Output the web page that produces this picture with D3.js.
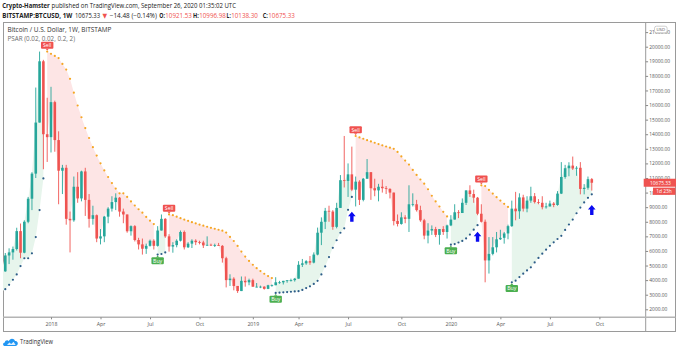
<!DOCTYPE html>
<html>
<head>
<meta charset="utf-8">
<script src="https://cdn.jsdelivr.net/npm/d3@7"></script>
<style>
  html, body { margin: 0; padding: 0; background: #fff; }
  svg { display: block; font-family: "Open Sans", "DejaVu Sans", sans-serif; }
</style>
</head>
<body>
<svg id="chart" width="680" height="350"></svg>
<script>
// Weekly BTCUSD (Bitstamp) candles, one per week starting Monday.
// The first twelve weeks (Jul-Oct 2017) only seed the Parabolic SAR and sit left of the pane.
const firstWeek = "2017-07-17";

const opens = [
  1920, 2740, 2750, 3240, 4100, 4080, 4350, 4600, 4200, 3700, 3600, 4380,
  4600, 5690, 5900, 6130, 7360, 5880, 8000, 9580, 11300, 14800, 19000, 14000,
  // 2018
  13800, 16200, 13600, 11500, 11700, 8200, 8100, 10400, 9600, 11450, 9500, 8200, 8450,
  6850, 7000, 8350, 8900, 9350, 9650, 8700, 8500, 7350, 7700, 6750, 6450, 6150,
  6350, 6700, 6350, 7400, 8200, 7000, 6300, 6400, 6700, 7300, 6250, 6500, 6700,
  6600, 6580, 6380, 6420, 6400, 6400, 6350, 5500, 4000, 4100, 3600, 3250, 3950,
  // 2019
  3850, 4000, 3550, 3550, 3550, 3400, 3650, 3650, 3850, 3850, 3950, 3990, 4000,
  4100, 5050, 5150, 5300, 5200, 5750, 7250, 8000, 8750, 8700, 7650, 8950, 10850,
  10800, 11250, 10200, 10750, 9500, 10950, 11400, 10300, 10150, 10400, 10300, 10250, 10000, 8050,
  7850, 8300, 8200, 9200, 9200, 8800, 8100, 7050, 7400, 7500, 7100, 7500,
  // 2020
  7300, 7750, 8150, 8650, 8600, 9300, 10150, 9900, 9650, 8550, 8000, 5350, 5800, 6250,
  6800, 6900, 7200, 7700, 8900, 8720, 9670, 8900, 9450, 9750, 9350, 9300, 9000,
  9050, 9250, 9150, 9930, 11070, 11670, 11850, 11650, 11700, 10250, 10330, 10921.53
];
const highs = [
  2900, 2780, 3300, 4200, 4480, 4450, 4980, 4720, 4350, 4100, 4400, 4600,
  5860, 6180, 6300, 7590, 7880, 8100, 9700, 11400, 17200, 19666, 19100, 16500,
  // 2018
  17250, 16300, 14200, 11900, 11900, 8700, 11100, 11400, 11500, 11700, 9900, 9100, 8500,
  7500, 8400, 9000, 9750, 9950, 9700, 8900, 8500, 7750, 7770, 6900, 6850, 6500,
  6780, 6800, 7700, 8500, 8250, 7150, 6600, 6800, 7400, 7400, 6600, 6800, 6800,
  6700, 6700, 7000, 6500, 6500, 6550, 6400, 5600, 4400, 4200, 3600, 4250, 4250,
  // 2019
  4100, 4100, 3800, 3620, 3580, 3680, 3700, 4200, 3950, 3950, 4000, 4100, 4150,
  5300, 5450, 5370, 5650, 5900, 7600, 8300, 8950, 9100, 8800, 9300, 11200, 13880,
  12000, 13150, 11100, 10850, 11000, 12300, 11400, 10950, 10600, 10900, 10450, 10300, 10000, 8500,
  8650, 8450, 10500, 9950, 9500, 9100, 8200, 7900, 7750, 7650, 7500, 7700,
  // 2020
  7800, 8450, 9200, 8800, 9600, 10150, 10500, 10200, 9700, 9200, 8150, 6950, 6950, 7300,
  7450, 7300, 7800, 9450, 10050, 9950, 9850, 9750, 10400, 9970, 9550, 9750, 9300,
  9450, 9350, 10100, 12090, 11900, 12080, 12470, 11810, 12090, 10580, 11100, 10996.98
];
const lows = [
  1850, 2400, 2660, 3180, 3950, 3950, 4350, 4000, 3000, 3500, 3580, 4150,
  4570, 5100, 5400, 6030, 5500, 5840, 7900, 8800, 11000, 14800, 11600, 12100,
  // 2018
  12750, 12800, 9200, 9900, 7800, 5900, 8000, 9300, 9400, 8400, 7600, 7800, 6600,
  6450, 6600, 7900, 8700, 8800, 8350, 7900, 7250, 7050, 6650, 6100, 5750, 5800,
  6300, 6100, 6300, 7400, 6900, 5950, 5880, 6250, 6650, 6100, 6200, 6200, 6400,
  6450, 6200, 6350, 6350, 6270, 6350, 5200, 3500, 3600, 3300, 3120, 3250, 3550,
  // 2019
  3650, 3550, 3500, 3450, 3350, 3380, 3550, 3650, 3750, 3700, 3820, 3900, 3900,
  4100, 4900, 5050, 5050, 5150, 5700, 6400, 7500, 8000, 7450, 7550, 8950, 10350,
  9700, 10100, 9050, 9150, 9400, 10950, 9500, 9750, 9400, 10000, 9900, 9600, 7750, 7680,
  7800, 7900, 7300, 9050, 8700, 8000, 6800, 6520, 7100, 6950, 6430, 7100,
  // 2020
  6850, 7700, 8150, 8250, 8600, 9150, 9700, 9300, 8450, 7950, 3850, 4450, 5700, 5900,
  6750, 6500, 6800, 7650, 8100, 8200, 8700, 8650, 9300, 9250, 9200, 8850, 8900,
  9050, 9000, 9100, 9900, 10950, 11120, 11550, 11150, 9880, 9880, 10200, 10138.30
];
const closes = [
  2740, 2750, 3240, 4100, 4080, 4350, 4600, 4200, 3700, 3600, 4380, 4600,
  5690, 5900, 6130, 7360, 5880, 8000, 9580, 11300, 14800, 19000, 14000, 13800,
  // 2018
  16200, 13600, 11500, 11700, 8200, 8100, 10400, 9600, 11450, 9500, 8200, 8450, 6850,
  7000, 8350, 8900, 9350, 9650, 8700, 8500, 7350, 7700, 6750, 6450, 6150, 6350,
  6700, 6350, 7400, 8200, 7000, 6300, 6400, 6700, 7300, 6250, 6500, 6700, 6600,
  6580, 6380, 6420, 6400, 6400, 6350, 5500, 4000, 4100, 3600, 3250, 3950, 3850,
  // 2019
  4000, 3550, 3550, 3550, 3400, 3650, 3650, 3850, 3850, 3950, 3990, 4000, 4100,
  5050, 5150, 5300, 5200, 5750, 7250, 8000, 8750, 8700, 7650, 8950, 10850, 10800,
  11250, 10200, 10750, 9500, 10950, 11400, 10300, 10150, 10400, 10300, 10250, 10000, 8050, 7850,
  8300, 8200, 9200, 9200, 8800, 8100, 7050, 7400, 7500, 7100, 7500, 7300,
  // 2020
  7750, 8150, 8650, 8600, 9300, 10150, 9900, 9650, 8550, 8000, 5350, 5800, 6250, 6800,
  6900, 7200, 7700, 8900, 8720, 9670, 8900, 9450, 9750, 9350, 9300, 9000, 9050,
  9250, 9150, 9930, 11070, 11670, 11850, 11650, 11700, 10250, 10330, 10920, 10675.33
];

// Parabolic SAR settings (start, increment, maximum)
const sarStart = 0.02, sarIncrement = 0.02, sarMaximum = 0.2;

// Axis ticks
const priceTicks = [2000, 3000, 4000, 5000, 6000, 7000, 8000, 9000, 10000, 11000,
                    12000, 13000, 14000, 15000, 16000, 17000, 18000, 19000, 20000, 21000];
const timeTickDates = ["2018-01-01", "2018-04-02", "2018-07-02", "2018-10-01", "2019-01-07", "2019-04-01",
                       "2019-07-01", "2019-10-07", "2020-01-06", "2020-04-06", "2020-07-06", "2020-10-05"];
const timeTickLabels = ["2018", "Apr", "Jul", "Oct", "2019", "Apr", "Jul", "Oct", "2020", "Apr", "Jul", "Oct"];

// Arrow marks (date, price at arrow tip)
const arrowDates = ["2019-07-08", "2020-02-24", "2020-09-21"];
const arrowPrices = [8690, 7320, 9150];

const lastPrice = 10675.33;
const barCountdown = "1d 23h";

// ---------------------------------------------------------------------------
const parseDay = d3.utcParse("%Y-%m-%d");
const week0 = parseDay(firstWeek);
const dates = opens.map((_, i) => d3.utcDay.offset(week0, 7 * i));
const bars = dates.map((d, i) => ({ date: d, o: opens[i], h: highs[i], l: lows[i], c: closes[i] }));

const pane = { left: 3, top: 22, right: 645.7, bottom: 317.3 };
const chartRight = 675.5, axisBottom = 331.5;

const x = d3.scaleUtc()
  .domain([parseDay("2017-10-09"), parseDay("2020-10-05")])
  .range([5.3, 599.4]);
const y = d3.scaleLinear().domain([2000, 20000]).range([309.3, 46.7]);

// Parabolic SAR, same recursion as the built-in sar() of the charting platform
function parabolicSar(h, l, c) {
  const n = h.length;
  const sar = new Array(n).fill(null), up = new Array(n).fill(null), flip = new Array(n).fill(false);
  let result, ep, af, isBelow;
  for (let i = 1; i < n; i++) {
    let firstBar = false;
    if (i === 1) {
      if (c[1] > c[0]) { isBelow = true; ep = h[1]; result = l[0]; }
      else { isBelow = false; ep = l[1]; result = h[0]; }
      firstBar = true; af = sarStart;
    }
    result = result + af * (ep - result);
    if (isBelow) {
      if (result > l[i]) { firstBar = true; isBelow = false; result = Math.max(h[i], ep); ep = l[i]; af = sarStart; flip[i] = true; }
    } else {
      if (result < h[i]) { firstBar = true; isBelow = true; result = Math.min(l[i], ep); ep = h[i]; af = sarStart; flip[i] = true; }
    }
    if (!firstBar) {
      if (isBelow) { if (h[i] > ep) { ep = h[i]; af = Math.min(af + sarIncrement, sarMaximum); } }
      else { if (l[i] < ep) { ep = l[i]; af = Math.min(af + sarIncrement, sarMaximum); } }
    }
    if (isBelow) { result = Math.min(result, l[i - 1]); if (i > 1) result = Math.min(result, l[i - 2]); }
    else { result = Math.max(result, h[i - 1]); if (i > 1) result = Math.max(result, h[i - 2]); }
    sar[i] = result; up[i] = isBelow;
  }
  return { sar, up, flip };
}
const psar = parabolicSar(highs, lows, closes);
bars.forEach((b, i) => { b.sar = psar.sar[i]; b.up = psar.up[i]; b.flip = psar.flip[i]; });

const UP = "#26a69a", DOWN = "#ef5350";
const svg = d3.select("#chart");

svg.append("defs").append("clipPath").attr("id", "paneClip")
  .append("rect").attr("x", pane.left).attr("y", pane.top)
  .attr("width", pane.right - pane.left).attr("height", pane.bottom - pane.top);

// Header: each run of text sits at its own place on the line
function headerRun(xPos, yPos, width, text, opts = {}) {
  svg.append("text").attr("x", xPos).attr("y", yPos)
    .attr("font-size", 6.6).attr("fill", opts.fill || "#222")
    .attr("font-weight", opts.bold ? "bold" : null)
    .attr("textLength", width).attr("lengthAdjust", "spacingAndGlyphs")
    .text(text);
}
headerRun(2.3, 8, 47.5, "Crypto-Hamster", { bold: true });
headerRun(51.5, 8, 184.5, "published on TradingView.com, September 26, 2020 01:35:02 UTC");

headerRun(2.3, 17.6, 70, "BITSTAMP:BTCUSD, 1W", { bold: true });
headerRun(75, 17.6, 25, "10675.33");
headerRun(102.6, 17.6, 4.6, "▼", { fill: DOWN });
headerRun(109.8, 17.6, 47, "−14.48 (−0.14%)");
[["O:", "10921.53", 159.2, 165.3], ["H:", "10996.98", 193, 199.2],
 ["L:", "10138.30", 226.6, 231.2], ["C:", "10675.33", 262.8, 268.3]].forEach(([k, v, xk, xv]) => {
  headerRun(xk, 17.6, xv - xk - 0.4, k, { bold: true });
  headerRun(xv, 17.6, 26.6, v, { fill: DOWN });
});

// Frame
const frame = svg.append("g").attr("stroke", "#9a9a9a").attr("stroke-width", 1).attr("fill", "none");
frame.append("rect").attr("x", pane.left + 0.5).attr("y", pane.top + 0.5)
  .attr("width", chartRight - pane.left - 0.5).attr("height", axisBottom - pane.top - 0.5);
frame.append("line").attr("x1", pane.right).attr("x2", pane.right).attr("y1", pane.top).attr("y2", axisBottom);
frame.append("line").attr("x1", pane.left).attr("x2", chartRight).attr("y1", pane.bottom).attr("y2", pane.bottom)
  .attr("stroke", "#b4b4b4").attr("stroke-width", 1.4);

const plot = svg.append("g").attr("clip-path", "url(#paneClip)");

// Trend fills between SAR and close
const segments = [];
bars.forEach((b, i) => {
  if (b.sar == null) return;
  const last = segments[segments.length - 1];
  if (!last || last.up !== b.up || b.flip) segments.push({ up: b.up, bars: [b] });
  else last.bars.push(b);
});
const trendArea = d3.area().x(d => x(d.date)).y0(d => y(d.sar)).y1(d => y(d.c));
plot.selectAll("path.fill").data(segments).join("path")
  .attr("class", "fill")
  .attr("d", s => trendArea(s.bars))
  .attr("fill", s => s.up ? "#e7f5ec" : "#fde5e5");

// Candles
const bw = 2.6;
const candle = plot.selectAll("g.candle").data(bars).join("g").attr("class", "candle");
candle.append("line")
  .attr("x1", d => x(d.date)).attr("x2", d => x(d.date))
  .attr("y1", d => y(d.h)).attr("y2", d => y(d.l))
  .attr("stroke", d => d.c >= d.o ? UP : DOWN).attr("stroke-width", 0.9);
candle.append("rect")
  .attr("x", d => x(d.date) - bw / 2).attr("width", bw)
  .attr("y", d => y(Math.max(d.o, d.c)))
  .attr("height", d => Math.max(0.8, Math.abs(y(d.o) - y(d.c))))
  .attr("fill", d => d.c >= d.o ? UP : DOWN);

// SAR dots
plot.selectAll("circle.sar").data(bars.filter(b => b.sar != null)).join("circle")
  .attr("class", "sar")
  .attr("cx", d => x(d.date)).attr("cy", d => y(d.sar)).attr("r", 1.1)
  .attr("fill", d => d.up ? "#2d5d88" : "#f5a623");

// Buy / Sell labels at trend reversals
const visibleStart = x.domain()[0];
const signals = bars.filter(b => b.flip && b.date >= visibleStart);
const lab = plot.selectAll("g.signal").data(signals).join("g").attr("class", "signal")
  .attr("transform", d => `translate(${x(d.date)},${y(d.sar)})`);
lab.append("rect")
  .attr("x", -6.2).attr("width", 12.4).attr("height", 7).attr("rx", 1)
  .attr("y", d => d.up ? 2.7 : -9.7)
  .attr("fill", d => d.up ? "#4caf50" : "#f0514f");
lab.append("path")
  .attr("d", d => d.up ? "M-1.6,2.8L0,1L1.6,2.8Z" : "M-1.6,-2.8L0,-1L1.6,-2.8Z")
  .attr("fill", d => d.up ? "#4caf50" : "#f0514f");
lab.append("text")
  .attr("text-anchor", "middle").attr("font-size", 5.2).attr("fill", "#fff")
  .attr("y", d => d.up ? 8.1 : -4.3)
  .text(d => d.up ? "Buy" : "Sell");

// Arrow marks
const arrows = arrowDates.map((d, i) => ({ date: parseDay(d), price: arrowPrices[i] }));
plot.selectAll("path.arrow").data(arrows).join("path")
  .attr("class", "arrow")
  .attr("transform", d => `translate(${x(d.date)},${y(d.price)})`)
  .attr("d", "M0,0L3.8,4.6L1.7,4.6L1.7,10L-1.7,10L-1.7,4.6L-3.8,4.6Z")
  .attr("fill", "#0a0af0");

// Pane titles
svg.append("text").attr("x", 7.5).attr("y", 32.2).attr("font-size", 6.2).attr("fill", "#333")
  .attr("textLength", 104).attr("lengthAdjust", "spacingAndGlyphs")
  .text("Bitcoin / U.S. Dollar, 1W, BITSTAMP");
svg.append("text").attr("x", 7.5).attr("y", 40.9).attr("font-size", 6.2).attr("fill", "#6a6a6a")
  .attr("textLength", 67.5).attr("lengthAdjust", "spacingAndGlyphs")
  .text("PSAR (0.02, 0.02, 0.2, 2)");

// Price axis
const yAxis = svg.append("g").attr("transform", `translate(${pane.right},0)`)
  .call(d3.axisRight(y).tickValues(priceTicks).tickFormat(d3.format(".2f")).tickSize(2.4).tickPadding(1.2));
yAxis.select(".domain").remove();
yAxis.selectAll("line").attr("stroke", "#888");
yAxis.selectAll("text").attr("font-size", 4.9).attr("fill", "#555").attr("font-family", "Open Sans, sans-serif");

// Time axis
const xAxis = svg.append("g").attr("transform", `translate(0,${pane.bottom})`)
  .call(d3.axisBottom(x).tickValues(timeTickDates.map(parseDay))
    .tickFormat((d, i) => timeTickLabels[i]).tickSize(2).tickPadding(3.2));
xAxis.select(".domain").remove();
xAxis.selectAll("line").attr("stroke", "#888");
xAxis.selectAll("text").attr("font-size", 5.2).attr("fill", "#555").attr("font-family", "Open Sans, sans-serif");

// Currency badge
const usd = svg.append("g");
usd.append("rect").attr("x", 654.5).attr("y", 26.2).attr("width", 12.6).attr("height", 6.6).attr("rx", 2)
  .attr("fill", "#fff").attr("stroke", "#b0b0b0").attr("stroke-width", 0.6);
usd.append("text").attr("x", 660.8).attr("y", 31.3).attr("text-anchor", "middle")
  .attr("font-size", 4.3).attr("fill", "#555").text("USD");

// Last price and bar countdown badges
const yl = y(lastPrice);
svg.append("rect").attr("x", pane.right - 2).attr("y", yl - 4).attr("width", chartRight - pane.right + 2.5).attr("height", 8)
  .attr("fill", "#ef5350");
svg.append("text").attr("x", 650).attr("y", yl + 1.8).attr("font-size", 4.9).attr("fill", "#fff")
  .text(d3.format(".2f")(lastPrice));
svg.append("rect").attr("x", 653).attr("y", yl + 4.9).attr("width", chartRight - 653).attr("height", 7.2)
  .attr("fill", "#ef5350");
svg.append("text").attr("x", 656.2).attr("y", yl + 10.2).attr("font-size", 4.9).attr("fill", "#fff")
  .text(barCountdown);

// Footer logo
const logo = svg.append("g").attr("transform", "translate(3,337)");
logo.append("path")
  .attr("d", "M1.5,9 C-0.5,9 -0.3,5.6 1.8,5.6 C2,3.4 4.6,2.6 5.8,4.2 C6.6,1 11.2,0.8 12,4 C14.6,3.8 15.6,6.6 14.2,8 C13.8,8.7 13.2,9 12.4,9 Z")
  .attr("fill", "#2196f3");
logo.append("path").attr("d", "M4,8 L6.4,5.4 L8.2,7 L10.6,4.8 L12.6,8 Z").attr("fill", "#fff").attr("opacity", 0.85);
svg.append("text").attr("x", 20).attr("y", 343.6).attr("font-size", 6.2).attr("fill", "#333")
  .attr("textLength", 33).attr("lengthAdjust", "spacingAndGlyphs").text("TradingView");
</script>
</body>
</html>
